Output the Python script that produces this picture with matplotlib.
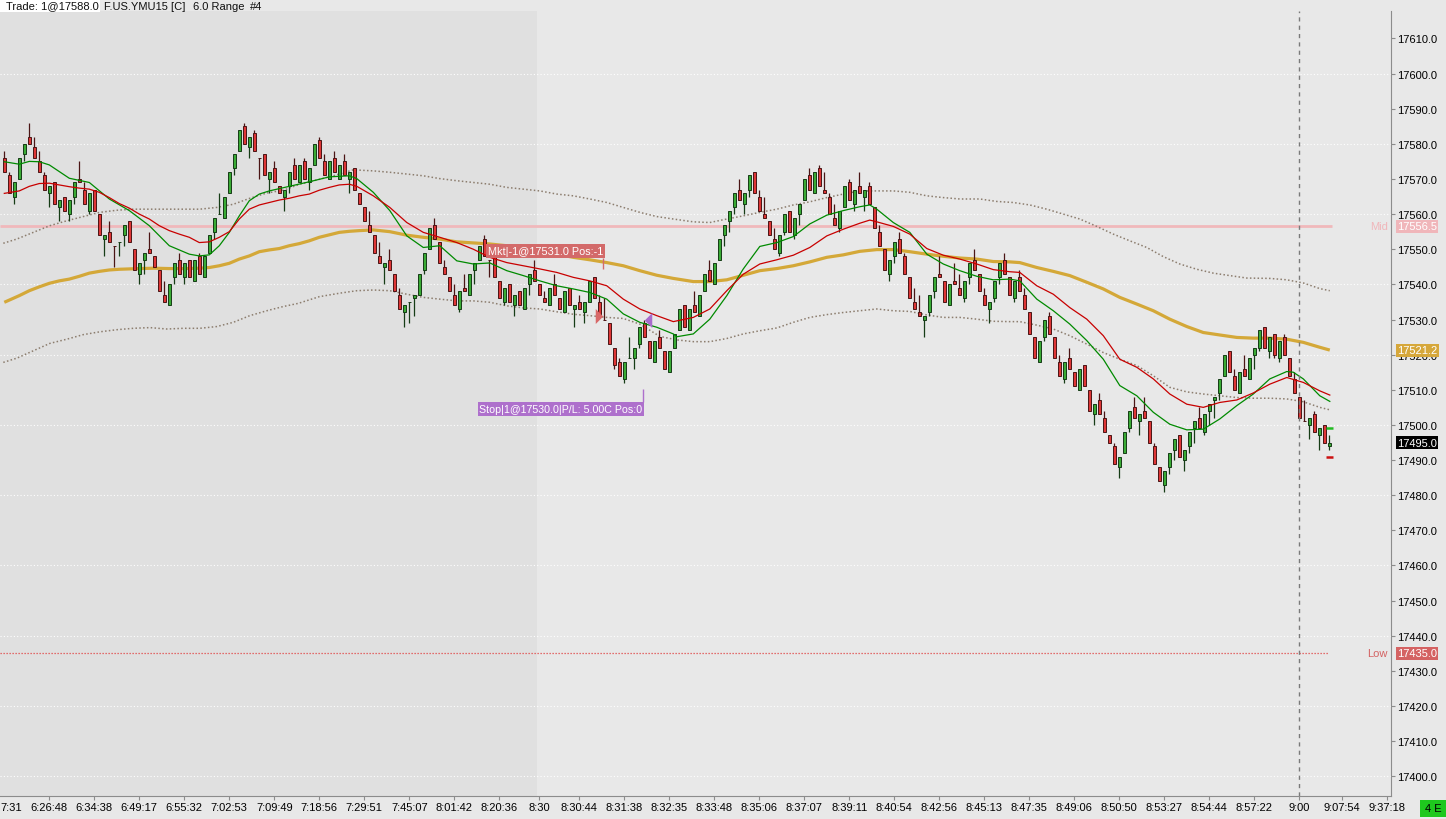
import matplotlib
matplotlib.use("Agg")
import matplotlib.pyplot as plt
import matplotlib.transforms as mtransforms
from matplotlib.patches import Rectangle
import numpy as np

plt.rcParams["font.family"] = ["Liberation Sans", "DejaVu Sans"]

# ---- range bars (6.0 range) ----
bar_open = [
    17576, 17571, 17565, 17570, 17577, 17582, 17579, 17575, 17571, 17566,
    17569, 17562, 17565, 17560, 17565, 17570, 17567, 17561, 17567, 17560,
    17553, 17555, 17551, 17552, 17554, 17558, 17550, 17543, 17547, 17550,
    17548, 17544, 17537, 17534, 17542, 17547, 17542, 17547, 17541, 17548,
    17542, 17549, 17555, 17560, 17559, 17566, 17573, 17578, 17585, 17579,
    17583, 17576, 17577, 17570, 17573, 17568, 17565, 17568, 17574, 17569,
    17575, 17569, 17574, 17581, 17575, 17570, 17576, 17570, 17575, 17570,
    17573, 17566, 17562, 17557, 17554, 17548, 17545, 17547, 17543, 17537,
    17532, 17535, 17536, 17537, 17544, 17550, 17557, 17552, 17545, 17542,
    17537, 17533, 17539, 17537, 17544, 17547, 17553, 17547, 17548, 17541,
    17535, 17540, 17534, 17538, 17533, 17540, 17544, 17540, 17536, 17534,
    17540, 17536, 17532, 17539, 17533, 17535, 17532, 17535, 17542, 17535,
    17530, 17529, 17522, 17518, 17513, 17519, 17519, 17523, 17529, 17524,
    17518, 17525, 17521, 17515, 17522, 17527, 17534, 17527, 17534, 17531,
    17538, 17544, 17540, 17547, 17554, 17558, 17562, 17567, 17563, 17567,
    17572, 17565, 17560, 17558, 17553, 17549, 17555, 17561, 17554, 17560,
    17564, 17571, 17566, 17573, 17567, 17565, 17559, 17556, 17562, 17569,
    17563, 17568, 17565, 17568, 17562, 17555, 17550, 17543, 17548, 17553,
    17548, 17542, 17535, 17532, 17530, 17532, 17538, 17543, 17541, 17534,
    17541, 17539, 17536, 17542, 17547, 17543, 17537, 17533, 17536, 17542,
    17547, 17542, 17536, 17542, 17537, 17532, 17525, 17518, 17525, 17531,
    17525, 17518, 17513, 17519, 17515, 17510, 17517, 17510, 17503, 17507,
    17502, 17497, 17494, 17488, 17492, 17499, 17505, 17501, 17504, 17501,
    17494, 17488, 17483, 17488, 17493, 17497, 17490, 17494, 17499, 17502,
    17498, 17504, 17507, 17509, 17514, 17521, 17514, 17509, 17516, 17513,
    17520, 17522, 17528, 17521, 17526, 17519, 17525, 17519, 17513, 17508,
    17501, 17500, 17503, 17497, 17500, 17494,
]
bar_high = [
    17578, 17572, 17569, 17576, 17580, 17586, 17582, 17578, 17572, 17568,
    17569, 17564, 17565, 17564, 17569, 17575, 17569, 17566, 17567, 17560,
    17554, 17558, 17551, 17552, 17557, 17558, 17550, 17546, 17549, 17555,
    17548, 17544, 17541, 17540, 17546, 17549, 17546, 17547, 17547, 17549,
    17548, 17554, 17559, 17566, 17565, 17572, 17577, 17584, 17586, 17582,
    17584, 17576, 17577, 17572, 17575, 17568, 17567, 17572, 17576, 17574,
    17576, 17573, 17580, 17582, 17577, 17575, 17578, 17574, 17577, 17572,
    17573, 17566, 17562, 17561, 17554, 17552, 17546, 17550, 17543, 17539,
    17534, 17535, 17537, 17543, 17549, 17556, 17559, 17552, 17547, 17542,
    17540, 17538, 17543, 17543, 17546, 17551, 17554, 17547, 17548, 17541,
    17539, 17540, 17537, 17538, 17539, 17543, 17547, 17540, 17538, 17539,
    17543, 17536, 17538, 17539, 17534, 17537, 17535, 17541, 17542, 17537,
    17536, 17529, 17522, 17519, 17518, 17525, 17522, 17528, 17530, 17524,
    17524, 17527, 17521, 17521, 17526, 17533, 17534, 17533, 17538, 17537,
    17543, 17547, 17546, 17553, 17557, 17561, 17566, 17570, 17566, 17571,
    17572, 17567, 17565, 17558, 17556, 17554, 17560, 17561, 17559, 17563,
    17570, 17573, 17572, 17574, 17572, 17566, 17563, 17561, 17568, 17570,
    17567, 17572, 17567, 17569, 17562, 17557, 17550, 17547, 17552, 17555,
    17549, 17542, 17539, 17537, 17531, 17537, 17542, 17548, 17541, 17540,
    17546, 17543, 17541, 17546, 17550, 17543, 17539, 17535, 17541, 17546,
    17549, 17542, 17541, 17544, 17539, 17532, 17525, 17524, 17530, 17532,
    17525, 17520, 17518, 17522, 17515, 17516, 17517, 17510, 17506, 17509,
    17504, 17497, 17495, 17491, 17498, 17504, 17508, 17503, 17508, 17501,
    17495, 17488, 17487, 17492, 17496, 17497, 17493, 17498, 17501, 17505,
    17503, 17506, 17508, 17513, 17520, 17521, 17516, 17515, 17520, 17519,
    17522, 17527, 17528, 17525, 17526, 17524, 17526, 17519, 17515, 17508,
    17507, 17502, 17504, 17499, 17500, 17497,
]
bar_low = [
    17572, 17566, 17563, 17570, 17575, 17580, 17576, 17572, 17567, 17562,
    17563, 17558, 17561, 17558, 17563, 17569, 17563, 17560, 17561, 17554,
    17548, 17552, 17545, 17548, 17551, 17552, 17544, 17540, 17543, 17549,
    17545, 17538, 17535, 17534, 17540, 17543, 17540, 17542, 17541, 17543,
    17542, 17549, 17553, 17560, 17559, 17566, 17571, 17578, 17580, 17576,
    17578, 17570, 17571, 17566, 17569, 17566, 17561, 17566, 17570, 17569,
    17570, 17567, 17574, 17576, 17571, 17570, 17572, 17570, 17571, 17566,
    17567, 17563, 17558, 17555, 17549, 17546, 17540, 17544, 17538, 17533,
    17528, 17529, 17531, 17537, 17543, 17550, 17553, 17546, 17543, 17538,
    17534, 17532, 17538, 17537, 17540, 17547, 17548, 17542, 17542, 17536,
    17534, 17535, 17531, 17534, 17533, 17537, 17541, 17537, 17535, 17534,
    17537, 17533, 17532, 17534, 17528, 17533, 17529, 17535, 17536, 17531,
    17530, 17523, 17516, 17514, 17512, 17519, 17516, 17522, 17525, 17519,
    17518, 17522, 17516, 17515, 17522, 17527, 17528, 17527, 17532, 17531,
    17538, 17541, 17540, 17547, 17551, 17555, 17560, 17564, 17560, 17565,
    17566, 17561, 17559, 17554, 17550, 17548, 17554, 17555, 17553, 17557,
    17564, 17567, 17566, 17568, 17566, 17560, 17557, 17555, 17562, 17564,
    17561, 17566, 17561, 17563, 17556, 17551, 17544, 17541, 17546, 17549,
    17543, 17536, 17533, 17531, 17525, 17531, 17536, 17542, 17535, 17534,
    17540, 17537, 17535, 17540, 17544, 17538, 17534, 17529, 17535, 17540,
    17543, 17537, 17535, 17538, 17533, 17526, 17519, 17518, 17524, 17526,
    17519, 17514, 17512, 17516, 17511, 17510, 17511, 17504, 17500, 17503,
    17498, 17495, 17489, 17485, 17492, 17498, 17502, 17497, 17502, 17495,
    17489, 17484, 17481, 17486, 17490, 17491, 17487, 17492, 17495, 17499,
    17497, 17500, 17502, 17507, 17514, 17515, 17510, 17509, 17514, 17513,
    17516, 17521, 17522, 17519, 17519, 17518, 17520, 17514, 17509, 17502,
    17501, 17496, 17498, 17493, 17495, 17493,
]
bar_close = [
    17572, 17566, 17569, 17576, 17580, 17580, 17576, 17572, 17567, 17568,
    17563, 17564, 17561, 17564, 17569, 17569, 17563, 17566, 17561, 17554,
    17554, 17552, 17551, 17552, 17557, 17552, 17544, 17546, 17549, 17549,
    17545, 17538, 17535, 17540, 17546, 17543, 17546, 17542, 17547, 17543,
    17548, 17554, 17559, 17560, 17565, 17572, 17577, 17584, 17580, 17582,
    17578, 17576, 17571, 17572, 17569, 17566, 17567, 17572, 17570, 17574,
    17570, 17573, 17580, 17576, 17571, 17575, 17572, 17574, 17571, 17572,
    17567, 17563, 17558, 17555, 17549, 17546, 17546, 17544, 17538, 17533,
    17534, 17535, 17537, 17543, 17549, 17556, 17553, 17546, 17543, 17538,
    17534, 17538, 17538, 17543, 17546, 17551, 17548, 17547, 17542, 17536,
    17539, 17535, 17537, 17534, 17539, 17543, 17541, 17537, 17535, 17539,
    17537, 17533, 17538, 17534, 17534, 17533, 17535, 17541, 17536, 17531,
    17530, 17523, 17517, 17514, 17518, 17519, 17522, 17528, 17525, 17519,
    17524, 17522, 17516, 17521, 17526, 17533, 17528, 17533, 17532, 17537,
    17543, 17541, 17546, 17553, 17557, 17561, 17566, 17564, 17566, 17571,
    17566, 17561, 17559, 17554, 17550, 17554, 17560, 17555, 17559, 17563,
    17570, 17567, 17572, 17568, 17566, 17560, 17557, 17561, 17568, 17564,
    17567, 17566, 17567, 17563, 17556, 17551, 17544, 17547, 17552, 17549,
    17543, 17536, 17533, 17531, 17531, 17537, 17542, 17542, 17535, 17540,
    17540, 17537, 17541, 17546, 17544, 17538, 17534, 17535, 17541, 17546,
    17543, 17537, 17541, 17538, 17533, 17526, 17519, 17524, 17530, 17526,
    17519, 17514, 17518, 17516, 17511, 17516, 17511, 17504, 17506, 17503,
    17498, 17495, 17489, 17491, 17498, 17504, 17502, 17503, 17502, 17495,
    17489, 17484, 17487, 17492, 17496, 17491, 17493, 17498, 17501, 17499,
    17503, 17506, 17508, 17513, 17520, 17515, 17510, 17515, 17514, 17519,
    17522, 17527, 17522, 17525, 17520, 17524, 17520, 17514, 17509, 17502,
    17501, 17502, 17498, 17499, 17495, 17495,
]

# ---- indicator lines: (bar index, price) ----
fast_line = [
    (0, 17574.9), (3, 17574.2), (5, 17575.0), (7, 17574.9), (9, 17574.0), (13, 17570.2),
    (17, 17569.0), (21, 17564.3), (25, 17561.0), (29, 17556.7), (33, 17551.0), (37, 17548.6),
    (39, 17548.1), (41, 17548.4), (43, 17551.0), (45, 17554.8), (47, 17559.5), (49, 17563.8),
    (51, 17565.7), (53, 17566.6), (57, 17567.9), (61, 17569.2), (65, 17570.6), (69, 17570.9),
    (70.5, 17570.1), (73.8, 17566.2), (77.1, 17561.0), (80.5, 17553.8), (83.8, 17550.5),
    (87.1, 17551.0), (90.5, 17546.7), (93.8, 17545.8), (97.1, 17546.1), (100.5, 17543.9),
    (103.8, 17542.5), (107.1, 17541.0), (110.5, 17539.6), (113.8, 17538.7), (117.1, 17537.7),
    (120.5, 17535.8), (123.8, 17531.6), (127.1, 17529.2), (130.5, 17527.8), (133.8, 17525.9),
    (134.5, 17525.1), (137.8, 17525.9), (141.1, 17530.1), (144.5, 17536.8), (147.8, 17544.4),
    (151.1, 17550.8), (154.5, 17551.9), (157.8, 17553.6), (161.1, 17557.2), (164.5, 17559.7),
    (167.8, 17561.0), (171.1, 17562.1), (173.1, 17562.6), (174.5, 17561.4), (177.8, 17557.6),
    (181.1, 17554.8), (184.5, 17548.6), (187.8, 17545.8), (191.1, 17543.9), (194.5, 17542.3),
    (197.8, 17541.3), (201.1, 17541.5), (203.1, 17541.0), (206.5, 17535.8), (209.8, 17532.5),
    (213.1, 17528.7), (216.5, 17524.0), (219.8, 17518.7), (223.1, 17511.2), (226.5, 17508.3),
    (229.8, 17503.6), (233.1, 17500.2), (236.5, 17498.6), (239.8, 17498.8), (243.1, 17501.7),
    (246.5, 17505.5), (249.8, 17508.8), (253.1, 17513.1), (256.5, 17515.2), (257.8, 17515.0),
    (259.8, 17513.1), (263.1, 17508.3), (265.1, 17506.7),
]
slow_line = [
    (0, 17565.9), (3, 17566.6), (5, 17567.9), (7, 17568.7), (9, 17568.8), (11, 17568.3),
    (13, 17567.8), (15, 17567.4), (17, 17567.1), (19, 17566.2), (21, 17564.7), (23, 17563.0),
    (25, 17561.7), (27, 17560.0), (29, 17558.6), (31, 17556.7), (33, 17555.3), (35, 17554.3),
    (37, 17553.4), (39, 17551.9), (41, 17552.1), (43, 17553.4), (45, 17555.0), (47, 17558.6),
    (49, 17561.4), (51, 17562.6), (53, 17563.3), (55, 17564.0), (57, 17564.5), (59, 17565.2),
    (61, 17565.7), (63, 17566.8), (65, 17567.6), (67, 17568.3), (69, 17568.5),
    (70.5, 17567.9), (73.8, 17565.2), (77.1, 17561.9), (80.5, 17557.6), (83.8, 17554.8),
    (87.1, 17553.4), (90.5, 17551.9), (93.8, 17550.0), (97.1, 17547.7), (100.5, 17546.2),
    (103.8, 17545.3), (107.1, 17544.4), (110.5, 17543.4), (113.8, 17542.0), (117.1, 17541.0),
    (120.5, 17539.6), (123.8, 17535.8), (127.1, 17533.0), (130.5, 17531.1), (133.8, 17529.4),
    (137.8, 17530.6), (141.1, 17533.0), (144.5, 17538.2), (147.8, 17542.9), (151.1, 17545.8),
    (154.5, 17547.0), (157.8, 17548.3), (161.1, 17550.5), (164.5, 17553.8), (167.8, 17555.7),
    (171.1, 17557.4), (173.1, 17558.3), (174.5, 17557.8), (177.8, 17556.5), (181.1, 17554.3),
    (184.5, 17550.2), (187.8, 17548.3), (191.1, 17547.2), (194.5, 17545.8), (197.8, 17544.2),
    (201.1, 17543.6), (203.1, 17543.4), (206.5, 17539.6), (209.8, 17537.2), (213.1, 17533.4),
    (216.5, 17530.1), (219.8, 17525.4), (223.1, 17518.7), (226.5, 17516.4), (229.8, 17513.1),
    (233.1, 17508.8), (236.5, 17505.9), (239.8, 17505.0), (243.1, 17506.4), (246.5, 17507.1),
    (249.8, 17509.1), (253.1, 17511.6), (256.5, 17513.5), (259.8, 17512.1), (263.1, 17509.7),
    (265.1, 17508.5),
]
trend_line = [
    (0, 17534.9), (3, 17536.8), (5, 17538.2), (7, 17539.3), (9, 17540.3), (11, 17541.0),
    (13, 17541.5), (15, 17542.3), (17, 17543.2), (19, 17543.7), (21, 17544.1), (23, 17544.3),
    (27, 17544.5), (30, 17544.6), (33, 17544.5), (36, 17544.5), (39, 17544.6), (41, 17544.8),
    (43, 17545.3), (45, 17546.0), (47, 17547.2), (49, 17548.1), (51, 17549.3), (53, 17549.8),
    (55, 17550.2), (57, 17551.0), (59, 17551.6), (61, 17552.4), (63, 17553.4), (65, 17554.1),
    (67, 17554.8), (69, 17555.1), (71, 17555.3), (73.8, 17555.5), (77.1, 17555.0),
    (80.5, 17554.0), (83.8, 17553.4), (87.1, 17552.9), (90.5, 17552.1), (93.8, 17551.8),
    (97.1, 17551.5), (103.8, 17550.5), (107.1, 17549.5), (110.5, 17548.6), (113.8, 17547.7),
    (117.1, 17547.0), (120.5, 17546.2), (123.8, 17545.3), (127.1, 17543.9), (130.5, 17542.6),
    (133.8, 17541.7), (137.8, 17540.8), (141.1, 17540.8), (144.5, 17541.3), (147.8, 17542.6),
    (151.1, 17543.9), (154.5, 17544.5), (157.8, 17545.3), (161.1, 17546.4), (164.5, 17547.7),
    (167.8, 17548.4), (171.1, 17549.4), (174.5, 17549.9), (177.8, 17549.9), (181.1, 17549.3),
    (184.5, 17548.6), (187.8, 17548.0), (191.1, 17547.5), (194.5, 17547.2), (197.8, 17546.5),
    (201.1, 17546.4), (203.1, 17546.2), (206.5, 17544.8), (209.8, 17543.7), (213.1, 17542.5),
    (216.5, 17540.6), (219.8, 17538.7), (223.1, 17536.3), (226.5, 17534.4), (229.8, 17532.5),
    (233.1, 17530.1), (236.5, 17528.0), (239.8, 17526.3), (243.1, 17525.6), (246.5, 17524.9),
    (249.8, 17524.7), (253.1, 17524.7), (256.5, 17524.4), (259.8, 17523.5), (263.1, 17522.1),
    (265.1, 17521.3),
]
upper_band = [
    (-0.2, 17551.7), (2.5, 17552.9), (5.8, 17554.8), (9.1, 17556.7), (12.5, 17558.1),
    (15.8, 17559.3), (19.1, 17560.5), (22.5, 17561.1), (25.8, 17561.4), (39.1, 17561.4),
    (42.5, 17561.9), (45.8, 17562.8), (49.1, 17564.5), (52.5, 17566.0), (55.8, 17566.8),
    (59.1, 17568.5), (65.8, 17570.9), (69.8, 17572.6), (73.8, 17572.3), (77.1, 17571.9),
    (80.5, 17571.4), (83.8, 17570.9), (87.1, 17570.1), (90.5, 17569.5), (93.8, 17569.0),
    (97.1, 17568.5), (100.5, 17567.6), (103.8, 17567.1), (107.1, 17566.6), (110.5, 17565.7),
    (113.8, 17565.2), (117.1, 17564.3), (120.5, 17563.3), (123.8, 17561.9), (127.1, 17560.5),
    (130.5, 17559.3), (133.8, 17558.6), (137.8, 17557.8), (141.1, 17557.6), (144.5, 17558.6),
    (147.8, 17559.5), (151.1, 17560.5), (154.5, 17561.4), (157.8, 17562.6), (161.1, 17563.5),
    (164.5, 17564.7), (167.8, 17565.7), (171.1, 17566.6), (177.8, 17566.6), (181.1, 17566.2),
    (184.5, 17565.2), (187.8, 17564.7), (191.1, 17564.3), (195.1, 17564.3), (198.5, 17563.6),
    (201.8, 17563.3), (205.1, 17562.6), (208.5, 17561.4), (211.8, 17560.0), (215.1, 17558.6),
    (218.5, 17556.5), (221.8, 17554.3), (225.1, 17552.4), (228.5, 17550.5), (231.8, 17547.9),
    (235.1, 17545.8), (238.5, 17544.3), (241.8, 17543.2), (245.1, 17542.5), (248.5, 17541.8),
    (253.1, 17541.7), (256.5, 17541.3), (259.8, 17540.4), (263.1, 17538.8), (265.1, 17538.2),
]
lower_band = [
    (-0.2, 17517.8), (2.5, 17519.0), (5.8, 17521.1), (9.1, 17523.2), (12.5, 17524.4),
    (15.8, 17525.7), (19.1, 17526.5), (22.5, 17527.1), (25.8, 17527.5), (29.1, 17527.7),
    (32.5, 17527.3), (35.8, 17527.5), (39.1, 17527.5), (42.5, 17528.0), (45.8, 17529.2),
    (49.1, 17531.1), (52.5, 17532.5), (55.8, 17533.7), (58.8, 17534.6), (63, 17536.5),
    (67.1, 17537.5), (70.5, 17538.2), (73.8, 17538.4), (77.1, 17538.2), (80.5, 17537.2),
    (83.8, 17536.3), (87.1, 17535.8), (90.5, 17535.3), (93.8, 17535.3), (97.1, 17534.9),
    (100.5, 17533.9), (103.8, 17533.3), (107.1, 17533.0), (110.5, 17532.2), (113.8, 17531.5),
    (117.1, 17531.1), (120.5, 17530.6), (123.8, 17530.3), (127.1, 17528.7), (131.1, 17525.2),
    (134.5, 17524.2), (137.8, 17523.7), (141.1, 17523.7), (144.5, 17524.6), (147.8, 17525.9),
    (151.1, 17526.8), (154.5, 17527.6), (157.8, 17529.2), (161.1, 17530.6), (164.5, 17531.4),
    (167.8, 17532.0), (171.1, 17532.5), (174.5, 17533.0), (177.8, 17532.5), (181.1, 17532.3),
    (184.5, 17531.3), (187.8, 17530.6), (191.1, 17530.6), (194.5, 17530.1), (197.8, 17529.5),
    (201.1, 17529.4), (203.1, 17529.4), (206.5, 17528.4), (209.8, 17527.3), (213.1, 17525.4),
    (216.5, 17523.0), (219.8, 17520.6), (223.1, 17518.7), (226.5, 17516.9), (229.8, 17514.0),
    (233.1, 17510.7), (236.5, 17509.4), (239.8, 17508.8), (243.1, 17508.3), (246.5, 17507.8),
    (249.8, 17507.6), (253.1, 17507.6), (256.5, 17507.4), (259.8, 17506.6), (263.1, 17505.0),
    (265.1, 17504.3),
]

# ---- levels / trade ----
mid_level = 17556.5
low_level = 17435.0
trend_last = 17521.2
last_price = 17495.0
next_up, next_down = 17499, 17491
entry_bar, entry_price = 119, 17531.0
exit_bar, exit_price = 128, 17530.0
entry_text = "Mkt|-1@17531.0 Pos:-1"
exit_text = "Stop|1@17530.0|P/L: 5.00C Pos:0"
session_split = 106.5
now_bar = 259

time_ticks = [9, 18, 27, 36, 45, 54, 63, 72, 81, 90, 99, 107, 115, 124, 133, 142,
              151, 160, 169, 178, 187, 196, 205, 214, 223, 232, 241, 250, 259, 267.5, 276.5]
time_labels = ["6:26:48", "6:34:38", "6:49:17", "6:55:32", "7:02:53", "7:09:49", "7:18:56",
               "7:29:51", "7:45:07", "8:01:42", "8:20:36", "8:30", "8:30:44", "8:31:38",
               "8:32:35", "8:33:48", "8:35:06", "8:37:07", "8:39:11", "8:40:54", "8:42:56",
               "8:45:13", "8:47:35", "8:49:06", "8:50:50", "8:53:27", "8:54:44", "8:57:22",
               "9:00", "9:07:54", "9:37:18"]
price_ticks = np.arange(17400, 17611, 10)

W, H = 1446, 820
fig = plt.figure(figsize=(W / 100, H / 100), dpi=100, facecolor="#e8e8e8")
ax = fig.add_axes([0, 23 / H, 1391 / W, 785 / H])
ax.set_facecolor("#e8e8e8")
x0, x1 = -0.86, 277.34
ax.set_xlim(x0, x1)
ax.set_ylim(17394.4, 17617.8)

ax.axvspan(x0, session_split, color="#e0e0e0", lw=0, zorder=0)
for p in range(17400, 17601, 20):
    ax.axhline(p, color="white", lw=0.8, ls=(0, (1, 2)), zorder=0.5)

# levels
ax.hlines(mid_level, x0, 265.6, color="#f0b8bb", lw=2, zorder=1)
ax.hlines(low_level, x0, 265.0, color="#e04848", lw=0.9, ls=(0, (1, 1.4)), zorder=1)

# bands + trend
for band in (upper_band, lower_band):
    bx, by = zip(*band)
    ax.plot(bx, by, color="#8c7d6e", lw=1.1, ls=(0, (1, 1.5)), zorder=1.5)
tx, ty = zip(*trend_line)
ax.plot(tx, ty, color="#d4a838", lw=2.3, zorder=2, solid_capstyle="butt")

# candles
o = np.array(bar_open, float)
h = np.array(bar_high, float)
l = np.array(bar_low, float)
c = np.array(bar_close, float)
idx = np.arange(len(o))
prev_c = np.concatenate([[c[0]], c[:-1]])
up = (c > o) | ((c == o) & (c >= prev_c))
fill = np.where(up, "#3aab35", "#de3636")
edge = np.where(up, "#163c16", "#4a1515")
ax.vlines(idx, l, h, colors=edge, lw=0.9, zorder=3)
ax.bar(idx, np.abs(c - o), bottom=np.minimum(o, c), width=0.6, color=fill,
       edgecolor=edge, linewidth=0.7, zorder=4)

# moving averages
fx, fy = zip(*fast_line)
ax.plot(fx, fy, color="#008a00", lw=0.9, zorder=5)
sx, sy = zip(*slow_line)
ax.plot(sx, sy, color="#c80000", lw=0.9, zorder=5)

# next range-bar projection ticks
ax.hlines(next_up, len(o) - 1.7, len(o) - 0.3, color="#22bb22", lw=1.8, zorder=6)
ax.hlines(next_down, len(o) - 1.7, len(o) - 0.3, color="#cc1111", lw=1.8, zorder=6)

ax.axvline(now_bar, color="#7a7a7a", lw=1, ls=(0, (3, 3)), zorder=6)

# trade markers and labels
ax.plot([entry_bar], [entry_price], marker=[(-0.5, -1), (0.5, 0), (-0.5, 1)], ms=10.8,
        color="#d86868", mec="none", ls="none", zorder=7)
ax.plot([exit_bar + 0.7], [exit_price], marker=[(0.5, -1), (-0.5, 0), (0.5, 1)], ms=10.8,
        color="#a86ccc", mec="none", ls="none", zorder=7)
ax.text(entry_bar + 0.8, 17549.5, entry_text, ha="right", va="center", fontsize=7.8,
        color="white", zorder=8,
        bbox=dict(boxstyle="square,pad=0.16", fc="#d36a6a", ec="none"))
ax.vlines(entry_bar + 0.8, 17544.4, 17547.6, color="#d36a6a", lw=1, zorder=8)
ax.text(exit_bar - 0.35, 17504.5, exit_text, ha="right", va="center", fontsize=7.7,
        color="white", zorder=8,
        bbox=dict(boxstyle="square,pad=0.16", fc="#ae70cc", ec="none"))
ax.vlines(exit_bar - 0.2, 17506.5, 17510.1, color="#ae70cc", lw=1, zorder=8)

# axes
for s in ("left", "top"):
    ax.spines[s].set_visible(False)
for s in ("right", "bottom"):
    ax.spines[s].set_color("#8c8c8c")
ax.yaxis.tick_right()
ax.set_yticks(price_ticks)
ax.set_yticklabels([f"{v:.1f}" for v in price_ticks])
ax.set_xticks(time_ticks)
ax.set_xticklabels(time_labels)
ax.tick_params(axis="both", direction="out", length=3, width=0.8, color="#8c8c8c",
               labelsize=8, labelcolor="black", pad=1.5)

# right-axis price tags
tr = mtransforms.blended_transform_factory(fig.transFigure, ax.transData)
tags = [(mid_level, "#f0b6ba", "Mid"), (trend_last, "#d6a73a", None),
        (last_price, "black", None), (low_level, "#d46262", "Low")]
for price, col, name in tags:
    fig.text(1397 / W, price, f"{price:.1f}", transform=tr, ha="left", va="center",
             fontsize=8, color="white",
             bbox=dict(boxstyle="square,pad=0.12", fc=col, ec="none"))
    if name:
        fig.text(1388 / W, price, name, transform=tr, ha="right", va="center",
                 fontsize=8, color=col)

# header
fig.add_artist(Rectangle((0, 1 - 13 / H), 100 / W, 13 / H, transform=fig.transFigure,
                         fc="white", ec="none"))
for px, s in [(6, "Trade: 1@17588.0"), (104, "F.US.YMU15 [C]"), (193, "6.0 Range"), (250, "#4")]:
    fig.text(px / W, 1 - 6.5 / H, s, ha="left", va="center", fontsize=8, color="#101010")

fig.text(0, 1 - 808 / H, "7:31", ha="left", va="center", fontsize=8, color="black")
fig.add_artist(Rectangle((1420 / W, 2 / H), 26 / W, 17 / H, transform=fig.transFigure,
                         fc="#1ec81e", ec="none"))
fig.text(1433 / W, 10.5 / H, "4 E", ha="center", va="center", fontsize=8, color="black")

fig.savefig("out.png", dpi=100, facecolor=fig.get_facecolor())
